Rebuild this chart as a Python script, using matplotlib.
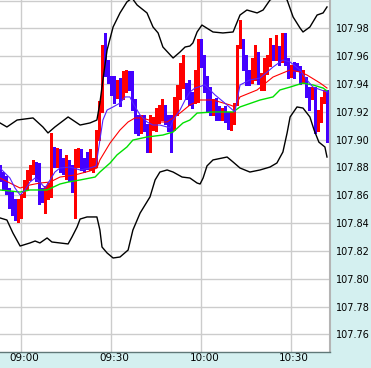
import numpy as np
import matplotlib
matplotlib.use("Agg")
import matplotlib.pyplot as plt
from matplotlib.transforms import ScaledTranslation

# one-minute candles, minutes relative to 09:00
minutes = list(range(-7, 103))
opens = [107.879, 107.872, 107.871, 107.864, 107.860, 107.854, 107.846, 107.848, 107.860, 107.865,
         107.872, 107.877, 107.882, 107.882, 107.864, 107.855, 107.858, 107.860, 107.893, 107.882,
         107.891, 107.885, 107.875, 107.883, 107.880, 107.865, 107.882, 107.890, 107.885, 107.890,
         107.880, 107.880, 107.882, 107.901, 107.921, 107.959, 107.950, 107.943, 107.939, 107.932,
         107.936, 107.931, 107.936, 107.943, 107.941, 107.925, 107.914, 107.907, 107.914, 107.908,
         107.893, 107.908, 107.907, 107.914, 107.916, 107.921, 107.914, 107.912, 107.909, 107.919,
         107.931, 107.943, 107.938, 107.938, 107.931, 107.929, 107.929, 107.967, 107.956, 107.944,
         107.932, 107.920, 107.926, 107.921, 107.916, 107.921, 107.918, 107.909, 107.912, 107.926,
         107.968, 107.968, 107.959, 107.948, 107.943, 107.944, 107.959, 107.937, 107.938, 107.949,
         107.955, 107.966, 107.959, 107.964, 107.957, 107.970, 107.956, 107.946, 107.952, 107.954,
         107.952, 107.943, 107.943, 107.936, 107.931, 107.936, 107.907, 107.914, 107.927, 107.934]
highs = [107.882, 107.877, 107.874, 107.865, 107.862, 107.857, 107.857, 107.861, 107.871, 107.878,
         107.882, 107.885, 107.884, 107.883, 107.865, 107.867, 107.869, 107.905, 107.895, 107.894,
         107.893, 107.887, 107.889, 107.885, 107.882, 107.893, 107.894, 107.893, 107.887, 107.891,
         107.893, 107.887, 107.907, 107.928, 107.968, 107.977, 107.957, 107.946, 107.946, 107.943,
         107.944, 107.949, 107.950, 107.949, 107.949, 107.929, 107.918, 107.918, 107.918, 107.911,
         107.918, 107.916, 107.923, 107.925, 107.929, 107.925, 107.918, 107.918, 107.931, 107.939,
         107.955, 107.961, 107.941, 107.943, 107.934, 107.950, 107.972, 107.972, 107.961, 107.946,
         107.938, 107.929, 107.930, 107.924, 107.923, 107.924, 107.920, 107.920, 107.926, 107.968,
         107.986, 107.972, 107.961, 107.950, 107.959, 107.968, 107.963, 107.948, 107.959, 107.961,
         107.973, 107.968, 107.975, 107.967, 107.977, 107.977, 107.959, 107.954, 107.956, 107.955,
         107.953, 107.950, 107.945, 107.938, 107.938, 107.938, 107.921, 107.931, 107.936, 107.936]
lows = [107.870, 107.864, 107.861, 107.851, 107.846, 107.842, 107.841, 107.844, 107.859, 107.864,
        107.871, 107.875, 107.870, 107.854, 107.855, 107.847, 107.857, 107.859, 107.880, 107.880,
        107.877, 107.875, 107.872, 107.870, 107.862, 107.844, 107.880, 107.878, 107.877, 107.879,
        107.878, 107.877, 107.880, 107.900, 107.920, 107.946, 107.941, 107.932, 107.926, 107.930,
        107.924, 107.929, 107.934, 107.936, 107.921, 107.905, 107.903, 107.905, 107.906, 107.891,
        107.891, 107.907, 107.906, 107.912, 107.914, 107.911, 107.906, 107.891, 107.907, 107.918,
        107.929, 107.937, 107.929, 107.925, 107.923, 107.926, 107.927, 107.952, 107.934, 107.920,
        107.918, 107.918, 107.914, 107.914, 107.914, 107.913, 107.908, 107.907, 107.911, 107.925,
        107.966, 107.950, 107.939, 107.939, 107.941, 107.943, 107.940, 107.936, 107.936, 107.947,
        107.953, 107.957, 107.957, 107.954, 107.956, 107.954, 107.944, 107.945, 107.944, 107.949,
        107.940, 107.941, 107.931, 107.921, 107.929, 107.905, 107.906, 107.913, 107.926, 107.898]
closes = [107.871, 107.865, 107.862, 107.853, 107.848, 107.848, 107.853, 107.859, 107.870, 107.876,
          107.880, 107.882, 107.871, 107.855, 107.857, 107.862, 107.865, 107.894, 107.882, 107.893,
          107.878, 107.877, 107.885, 107.871, 107.864, 107.878, 107.890, 107.880, 107.878, 107.880,
          107.890, 107.885, 107.903, 107.925, 107.959, 107.948, 107.943, 107.934, 107.929, 107.938,
          107.926, 107.948, 107.946, 107.937, 107.923, 107.907, 107.905, 107.914, 107.907, 107.893,
          107.912, 107.912, 107.914, 107.921, 107.923, 107.912, 107.907, 107.905, 107.919, 107.938,
          107.950, 107.954, 107.931, 107.926, 107.925, 107.948, 107.967, 107.954, 107.936, 107.921,
          107.920, 107.925, 107.916, 107.916, 107.920, 107.916, 107.909, 107.918, 107.923, 107.967,
          107.974, 107.952, 107.941, 107.941, 107.957, 107.964, 107.941, 107.945, 107.956, 107.957,
          107.964, 107.962, 107.964, 107.955, 107.967, 107.955, 107.946, 107.952, 107.945, 107.950,
          107.941, 107.949, 107.932, 107.923, 107.936, 107.907, 107.919, 107.929, 107.934, 107.902]

# moving averages and bands (minute, price)
blue_t = [-6.9, -3.6, -1.9, -0.2, 1.4, 3.1, 4.8, 6.4, 8.1, 9.8, 11.4, 13.1, 16.4, 19.8, 23.1, 25.1,
          26.4, 27.4, 28.8, 30.8, 33.1, 34.8, 36.4, 37.4, 39.8, 42.1, 44.1, 46.4, 48.8, 49.8, 50.8,
          53.1, 54.8, 56.4, 58.1, 61.4, 64.8, 68.8, 71.4, 73.1, 76.4, 79.8, 84.1, 87.4, 89.8, 93.1,
          95.4, 97.4, 102.1]
blue_v = [107.8796, 107.8724, 107.8652, 107.8602, 107.8638, 107.8695, 107.8724, 107.8695, 107.8652,
          107.8710, 107.8767, 107.8796, 107.8803, 107.8782, 107.8796, 107.8810, 107.8997, 107.9141,
          107.9213, 107.9235, 107.9263, 107.9307, 107.9307, 107.9263, 107.9177, 107.9127, 107.9105,
          107.9105, 107.9091, 107.9084, 107.9141, 107.9213, 107.9285, 107.9342, 107.9371, 107.9393,
          107.9321, 107.9249, 107.9199, 107.9393, 107.9429, 107.9443, 107.9522, 107.9573, 107.9558,
          107.9501, 107.9429, 107.9378, 107.9342]
red_t = [-6.9, -3.6, -0.2, 3.1, 6.4, 9.8, 13.1, 18.1, 23.1, 25.4, 26.4, 29.8, 33.1, 35.8, 38.1,
         40.4, 42.8, 45.4, 48.8, 50.8, 53.1, 56.4, 59.8, 64.1, 69.8, 71.4, 73.1, 78.8, 84.1, 89.8,
         93.1, 95.4, 99.8, 102.1]
red_v = [107.8724, 107.8688, 107.8652, 107.8674, 107.8688, 107.8695, 107.8731, 107.8746, 107.8775,
         107.8796, 107.8854, 107.8976, 107.9069, 107.9127, 107.9156, 107.9156, 107.9141, 107.9127,
         107.9127, 107.9156, 107.9191, 107.9249, 107.9285, 107.9285, 107.9249, 107.9235, 107.9307,
         107.9357, 107.9450, 107.9501, 107.9486, 107.9465, 107.9407, 107.9371]
green_t = [-6.9, -0.2, 3.1, 8.8, 13.1, 15.8, 19.8, 24.8, 26.4, 29.8, 32.1, 35.4, 37.4, 42.1, 47.4,
           50.8, 54.1, 56.4, 58.8, 64.1, 70.8, 73.1, 79.8, 84.1, 86.4, 89.8, 94.1, 97.4, 100.8, 102.1]
green_v = [107.8638, 107.8623, 107.8638, 107.8638, 107.8681, 107.8695, 107.8710, 107.8731, 107.8767,
           107.8832, 107.8890, 107.8947, 107.8997, 107.9019, 107.9033, 107.9055, 107.9120, 107.9141,
           107.9191, 107.9199, 107.9199, 107.9235, 107.9285, 107.9307, 107.9357, 107.9378, 107.9407,
           107.9393, 107.9371, 107.9350]
upper_t = [-6.9, -4.6, -1.2, 4.1, 7.4, 9.1, 11.4, 15.8, 19.8, 23.1, 25.4, 26.4, 27.4, 28.8, 30.8,
           33.1, 35.4, 37.1, 38.8, 42.1, 44.1, 45.8, 47.4, 50.8, 53.1, 54.8, 56.4, 57.4, 58.8, 60.4,
           64.1, 67.4, 70.8, 73.1, 75.4, 78.8, 80.8, 83.1, 86.4, 88.8, 90.8, 93.1, 94.1, 96.4, 98.8,
           100.8, 102.1]
upper_v = [107.9120, 107.9091, 107.9141, 107.9156, 107.9091, 107.9048, 107.9091, 107.9163, 107.9105,
           107.9120, 107.9141, 107.9263, 107.9429, 107.9645, 107.9810, 107.9911, 107.9990, 108.0018,
           107.9968, 107.9911, 107.9810, 107.9767, 107.9666, 107.9587, 107.9630, 107.9666, 107.9673,
           107.9695, 107.9774, 107.9824, 107.9774, 107.9767, 107.9774, 107.9896, 107.9932, 107.9911,
           107.9932, 108.0004, 108.0040, 108.0004, 107.9882, 107.9803, 107.9774, 107.9810, 107.9896,
           107.9911, 107.9954]
lower_t = [-6.9, -4.6, -2.6, -0.2, 3.1, 4.8, 6.4, 8.8, 10.4, 13.1, 15.8, 17.1, 18.8, 19.8, 22.1,
           25.4, 26.4, 27.1, 28.8, 30.8, 33.1, 35.8, 37.4, 39.8, 43.1, 44.8, 46.4, 48.8, 50.8, 53.8,
           56.4, 58.8, 59.8, 60.8, 62.1, 64.1, 68.8, 70.8, 73.1, 76.4, 79.8, 83.1, 85.4, 87.4, 88.8,
           89.8, 92.1, 94.1, 96.4, 97.8, 99.4, 101.4, 102.1]
lower_v = [107.8437, 107.8422, 107.8329, 107.8235, 107.8257, 107.8271, 107.8257, 107.8293, 107.8264,
           107.8257, 107.8250, 107.8300, 107.8372, 107.8429, 107.8444, 107.8444, 107.8350, 107.8228,
           107.8185, 107.8149, 107.8156, 107.8206, 107.8350, 107.8472, 107.8588, 107.8710, 107.8767,
           107.8782, 107.8767, 107.8731, 107.8724, 107.8688, 107.8681, 107.8724, 107.8811, 107.8854,
           107.8875, 107.8839, 107.8796, 107.8767, 107.8782, 107.8803, 107.8832, 107.8911, 107.9048,
           107.9163, 107.9235, 107.9227, 107.9163, 107.9069, 107.8982, 107.8947, 107.8875]

tick_pos = [0, 30, 60, 90]
tick_labels = ["09:00", "09:30", "10:00", "10:30"]
price_ticks = [107.76, 107.78, 107.80, 107.82, 107.84, 107.86, 107.88, 107.90,
               107.92, 107.94, 107.96, 107.98, 108.00]

panel = "#d4f0f0"
up_col = "#ff0000"
down_col = "#4400ff"

fig = plt.figure(figsize=(3.71, 3.68), dpi=100, facecolor=panel)
ax = fig.add_axes([0, 16 / 368, 330 / 371, 352 / 368])
ax.set_facecolor("white")

for y in price_ticks:
    ax.axhline(y, color="#cccccc", lw=1.0, zorder=0)
for x in tick_pos:
    ax.axvline(x, color="#cccccc", lw=1.0, zorder=0)

o = np.array(opens)
c = np.array(closes)
cols = [up_col if cc >= oo else down_col for oo, cc in zip(o, c)]
ax.vlines(minutes, lows, highs, colors=cols, lw=0.75, zorder=2, antialiased=False)
body_h = np.maximum(np.abs(c - o), 0.0007)
ax.bar(minutes, body_h, bottom=np.minimum(o, c), width=0.67, color=cols, lw=0, zorder=2,
       antialiased=False)

ax.plot(upper_t, upper_v, color="black", lw=1.0, zorder=3)
ax.plot(lower_t, lower_v, color="black", lw=1.0, zorder=3)
ax.plot(green_t, green_v, color="#00e000", lw=1.0, zorder=4)
ax.plot(red_t, red_v, color="#ff0000", lw=0.8, zorder=4)
ax.plot(blue_t, blue_v, color="#5522ff", lw=0.8, zorder=4)

ax.set_xlim(-6.9, 103.1)
ax.set_ylim(107.7473, 108.0004)

ax.yaxis.tick_right()
ax.set_yticks(price_ticks[:-1])
ax.set_yticklabels(["%.2f" % v for v in price_ticks[:-1]])
ax.set_xticks(tick_pos)
ax.set_xticklabels(tick_labels)
ax.tick_params(axis="y", length=0, pad=4, labelsize=7, colors="black")
ax.tick_params(axis="x", length=0, pad=1, labelsize=7.5, colors="black")
for lab in ax.get_xticklabels():
    lab.set_transform(lab.get_transform() + ScaledTranslation(3.5 / 100, 0, fig.dpi_scale_trans))

ax.spines["left"].set_visible(False)
ax.spines["top"].set_visible(False)
ax.spines["right"].set_color("#b4b4b4")
ax.spines["right"].set_linewidth(1.5)
ax.spines["bottom"].set_color("#607878")
ax.spines["bottom"].set_linewidth(1.0)

fig.savefig("out.png", dpi=100, facecolor=panel)
